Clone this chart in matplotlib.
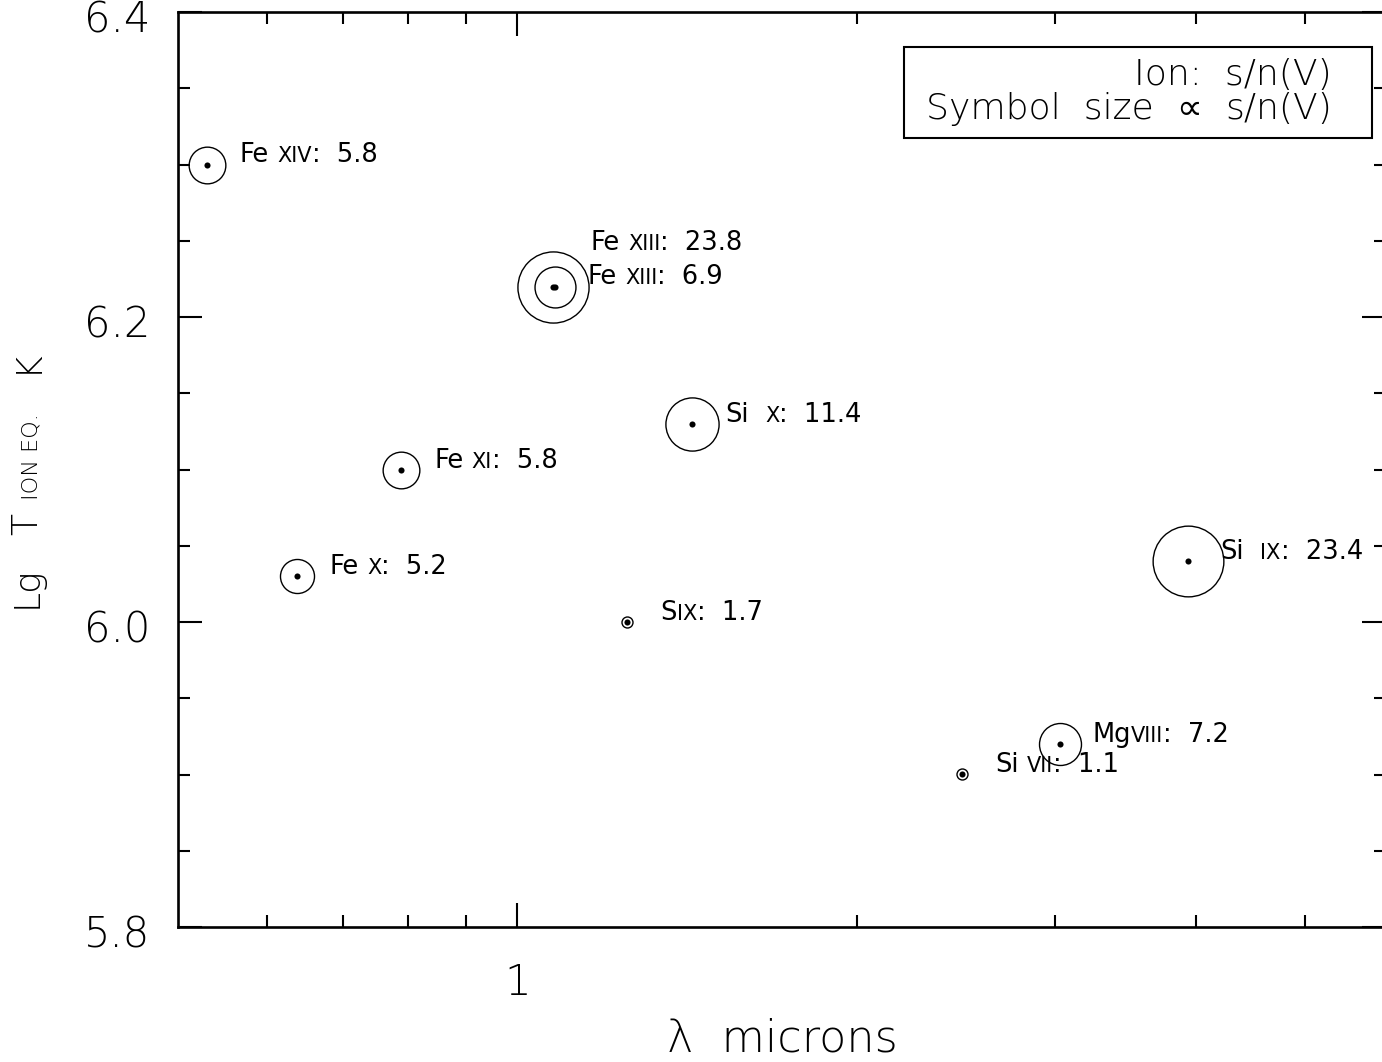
import numpy as np
import matplotlib
matplotlib.use("Agg")
import matplotlib.pyplot as plt
from matplotlib.ticker import FixedLocator, NullFormatter, FixedFormatter
from matplotlib.patches import Rectangle
from matplotlib.transforms import ScaledTranslation

# Coronal forbidden lines: wavelength, ionisation-equilibrium temperature, S/N of Stokes V
element = ["Fe ", "Fe ", "Fe ", "Fe ", "Fe ", "S", "Si  ", "Si  ", "Mg", "Si "]
numeral = ["XIV", "XIII", "XIII", "XI", "X", "IX", "X", "IX", "VIII", "VII"]
wavelength = [0.5303, 1.0747, 1.0798, 0.7892, 0.6374, 1.2520, 1.4301, 3.9346, 3.0285, 2.4807]
lg_temp = [6.30, 6.22, 6.22, 6.10, 6.03, 6.00, 6.13, 6.04, 5.92, 5.90]
snr = [5.8, 23.8, 6.9, 5.8, 5.2, 1.7, 11.4, 23.4, 7.2, 1.1]

y_major = [5.8, 6.0, 6.2, 6.4]
y_major_labels = ["5.8", "6.0", "6.2", "6.4"]
x_major = [1.0]
x_major_labels = ["1"]
x_minor = [0.6, 0.7, 0.8, 0.9, 2, 3, 4, 5]

W, H, DPI = 1382, 1062, 100
plt.rcParams["font.family"] = ["DejaVu Sans"]
THIN = 200

fig = plt.figure(figsize=(W / DPI, H / DPI), dpi=DPI)
ax = fig.add_axes([178 / W, 1 - 927 / H, (1386 - 178) / W, (927 - 12) / H])
ax.set_xscale("log")
ax.set_xlim(0.5, 5.9)
ax.set_ylim(5.8, 6.4)

for s in ax.spines.values():
    s.set_linewidth(1.9)

ax.xaxis.set_major_locator(FixedLocator(x_major))
ax.xaxis.set_major_formatter(FixedFormatter(x_major_labels))
ax.xaxis.set_minor_locator(FixedLocator(x_minor))
ax.xaxis.set_minor_formatter(NullFormatter())
ax.yaxis.set_major_locator(FixedLocator(y_major))
ax.yaxis.set_major_formatter(FixedFormatter(y_major_labels))
ax.yaxis.set_minor_locator(FixedLocator(np.arange(5.85, 6.4, 0.05)))
ax.tick_params(which="both", direction="in", top=True, right=True, width=1.5, color="black")
ax.tick_params(which="major", length=17, labelsize=30)
ax.tick_params(which="minor", length=8.5)
ax.tick_params(axis="y", which="major", pad=20)
ax.tick_params(axis="x", which="major", pad=25)
shift = ScaledTranslation(0, -4 / DPI, fig.dpi_scale_trans)
for lab in ax.get_yticklabels():
    lab.set_transform(lab.get_transform() + shift)
    lab.set_fontweight(THIN)
for lab in ax.get_xticklabels():
    lab.set_fontweight(THIN)

# Symbol radius grows with S/N (pixels), with a floor for weak lines
def radius_px(v):
    return max(5.5, 12.2 * np.log(v) - 3.1)

for x, y, v in zip(wavelength, lg_temp, snr):
    ax.plot([x], [y], marker="o", ms=2 * radius_px(v) * 72 / DPI, mfc="none",
            mec="black", mew=1.0, ls="none", zorder=3)
    ax.plot([x], [y], marker="o", ms=4.4, mfc="black", mec="black", mew=0, ls="none", zorder=4)

renderer = fig.canvas.get_renderer()


def advance_px(s, size, weight="normal"):
    t1 = fig.text(0, 0, "x" + s + "x", fontsize=size, fontweight=weight)
    t2 = fig.text(0, 0, "xx", fontsize=size, fontweight=weight)
    w = t1.get_window_extent(renderer).width - t2.get_window_extent(renderer).width
    t1.remove()
    t2.remove()
    return w


MAIN, SMALL = 18.5, 15
label_offset = (33, 2)            # pixels right / up from the marker centre
special_offset = {1: (38, 37)}    # stacked label of the strong Fe XIII line

for i, (x, y) in enumerate(zip(wavelength, lg_temp)):
    dx, dy = special_offset.get(i, label_offset)
    pieces = [(element[i], MAIN), (numeral[i], SMALL), (":  %.1f" % snr[i], MAIN)]
    cur = dx
    for txt, size in pieces:
        ax.annotate(txt.rstrip(), xy=(x, y), xytext=(cur * 72 / DPI, dy * 72 / DPI),
                    textcoords="offset points", ha="left", va="baseline",
                    fontsize=size, color="black", annotation_clip=False)
        cur += advance_px(txt, size)

# Key box
fig.patches.append(Rectangle((904 / W, 1 - 138 / H), 468 / W, 91 / H, transform=fig.transFigure,
                             fill=False, ec="black", lw=1.5))
KEY = 26
KEY_RIGHT = 1332
fig.text(KEY_RIGHT / W, 1 - 85 / H, "Ion:  s/n(V)", ha="right", va="baseline",
         fontsize=KEY, fontweight=THIN)
# second key line: the proportionality sign needs the regular face
key2 = [("Symbol  size  ", THIN), ("\u221d  ", "normal"), ("s/n(V)", THIN)]
total = sum(advance_px(t, KEY, w) for t, w in key2)
cur = KEY_RIGHT - total
for t, w in key2:
    fig.text(cur / W, 1 - 119 / H, t.rstrip(), ha="left", va="baseline", fontsize=KEY, fontweight=w)
    cur += advance_px(t, KEY, w)

# X axis title
fig.text(782 / W, 1 - 1052 / H, "\u03bb  microns", ha="center", va="baseline", fontsize=32,
         fontweight=THIN)

# Y axis title with an in-line subscript, rotated; each part starts at its own height (px)
ylab = [("Lg", 26, 608), ("T", 26, 535), ("ION EQ.", 16, 500), ("K", 26, 373)]
for txt, size, ypos in ylab:
    fig.text(37 / W, 1 - ypos / H, txt, rotation=90, rotation_mode="anchor",
             ha="left", va="baseline", fontsize=size, fontweight=THIN)

fig.savefig("out.png", dpi=DPI)
